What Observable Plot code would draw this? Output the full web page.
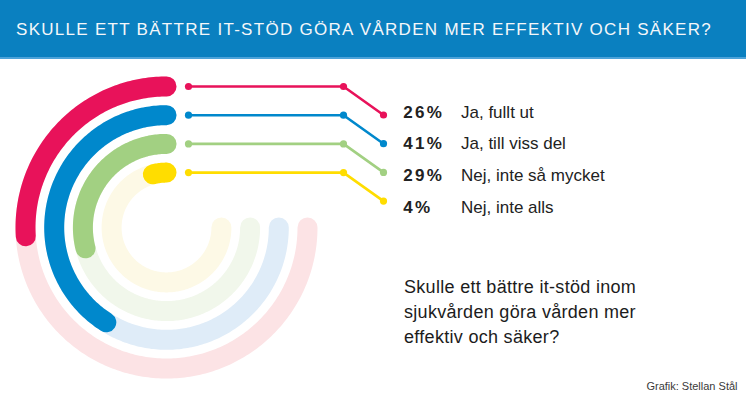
<!DOCTYPE html>
<html><head><meta charset="utf-8">
<script src="https://cdn.jsdelivr.net/npm/d3@7"></script>
<script src="https://cdn.jsdelivr.net/npm/@observablehq/plot@0.6"></script>
<style>
body{margin:0;background:#fff;font-family:"Liberation Sans",Arial,sans-serif;}
#wrap{width:746px;height:398px;position:relative;overflow:hidden;background:#fff}
#header{height:57px;background:#0A80C0;border-bottom:2px solid #4DA3D9;position:relative}
#title{position:absolute;left:16px;top:21px;font-size:17px;line-height:17px;color:#F4F7FA;white-space:nowrap;font-family:"Liberation Sans",Arial,sans-serif}
#chart svg{display:block}
g[font-weight="bold"] text{letter-spacing:2.3px}
g[font-size="18"] text{letter-spacing:0.3px}
</style></head>
<body><div id="wrap"><div id="header"><span id="title"></span></div><div id="chart"></div></div>
<script>
// ---- data ----
const title = "SKULLE ETT BÄTTRE IT-STÖD GÖRA VÅRDEN MER EFFEKTIV OCH SÄKER?";
const answers = ["Ja, fullt ut", "Ja, till viss del", "Nej, inte så mycket", "Nej, inte alls"];
const percents = [26, 41, 29, 4];
const colors = ["#E8125A", "#0088CC", "#A2D082", "#FFDD00"];
const fadedColors = ["#FCE3E5", "#DFECF8", "#F1F7EB", "#FDF9E6"];
const question = "Skulle ett bättre it-stöd inom\nsjukvården göra vården mer\neffektiv och säker?";
const credit = "Grafik: Stellan Stål";

// ---- title ----
const titleEl = document.getElementById("title");
titleEl.textContent = title;
{
  const ctx = document.createElement("canvas").getContext("2d");
  ctx.font = '17px "Liberation Sans", Arial, sans-serif';
  const w = ctx.measureText(title).width;
  titleEl.style.letterSpacing = ((696 - w) / (title.length - 1)) + "px";
}

// ---- layout ----
const W = 746, H = 339;
const cx = 166, cy = 168;
const r0 = 141, dr = 28.7;
const angle = d3.scaleLinear([0, 100], [0, 360]);   // percent -> degrees (counter-clockwise from 12 o'clock)
const bgExtent = 270;

function arcPoints(r, deg) {
  const steps = d3.range(0, deg, 1).concat([deg]);
  return steps.map(a => {
    const t = a * Math.PI / 180;
    return {x: cx - r * Math.sin(t), y: cy - r * Math.cos(t)};
  });
}

const rows = answers.map((name, i) => ({
  name, pct: percents[i], color: colors[i], faded: fadedColors[i],
  r: r0 - i * dr, i
}));

const marks = [];
rows.forEach(d => {
  marks.push(Plot.line(arcPoints(d.r, bgExtent), {x: "x", y: "y", stroke: d.faded, strokeWidth: 20, strokeLinecap: "round"}));
});
rows.forEach(d => {
  marks.push(Plot.line(arcPoints(d.r, angle(d.pct)), {x: "x", y: "y", stroke: d.color, strokeWidth: 20, strokeLinecap: "round"}));
});
rows.forEach(d => {
  const y = cy - d.r;
  const pts = [{x: 188, y}, {x: 343, y}, {x: 383, y: y + 28.5}];
  marks.push(Plot.line(pts, {x: "x", y: "y", stroke: d.color, strokeWidth: 2.6}));
  marks.push(Plot.dot(pts, {x: "x", y: "y", fill: d.color, r: 3.6}));
});
marks.push(Plot.text(rows, {x: () => 402.7, y: d => 58 + d.i * 31.9, text: d => d.pct + "%", textAnchor: "start", lineAnchor: "bottom", fontSize: 17, fontWeight: "bold", fill: "#222"}));
marks.push(Plot.text(rows, {x: () => 460.5, y: d => 58 + d.i * 31.9, text: "name", textAnchor: "start", lineAnchor: "bottom", fontSize: 17, fill: "#222"}));
marks.push(Plot.text([question], {x: () => 403.5, y: () => 283.7, text: d => d, textAnchor: "start", lineAnchor: "bottom", lineHeight: 25 / 18, fontSize: 18, fill: "#1c1c1c"}));
marks.push(Plot.text([credit], {x: () => 737, y: () => 330.5, text: d => d, textAnchor: "end", lineAnchor: "bottom", fontSize: 11, fill: "#3a3a3a"}));

const plot = Plot.plot({
  width: W, height: H, margin: 0,
  x: {domain: [0, W], range: [0, W], axis: null},
  y: {domain: [0, H], range: [0, H], axis: null},
  style: {fontFamily: '"Liberation Sans", Arial, sans-serif', background: "#fff"},
  marks
});
document.getElementById("chart").appendChild(plot);
</script>
</body></html>
